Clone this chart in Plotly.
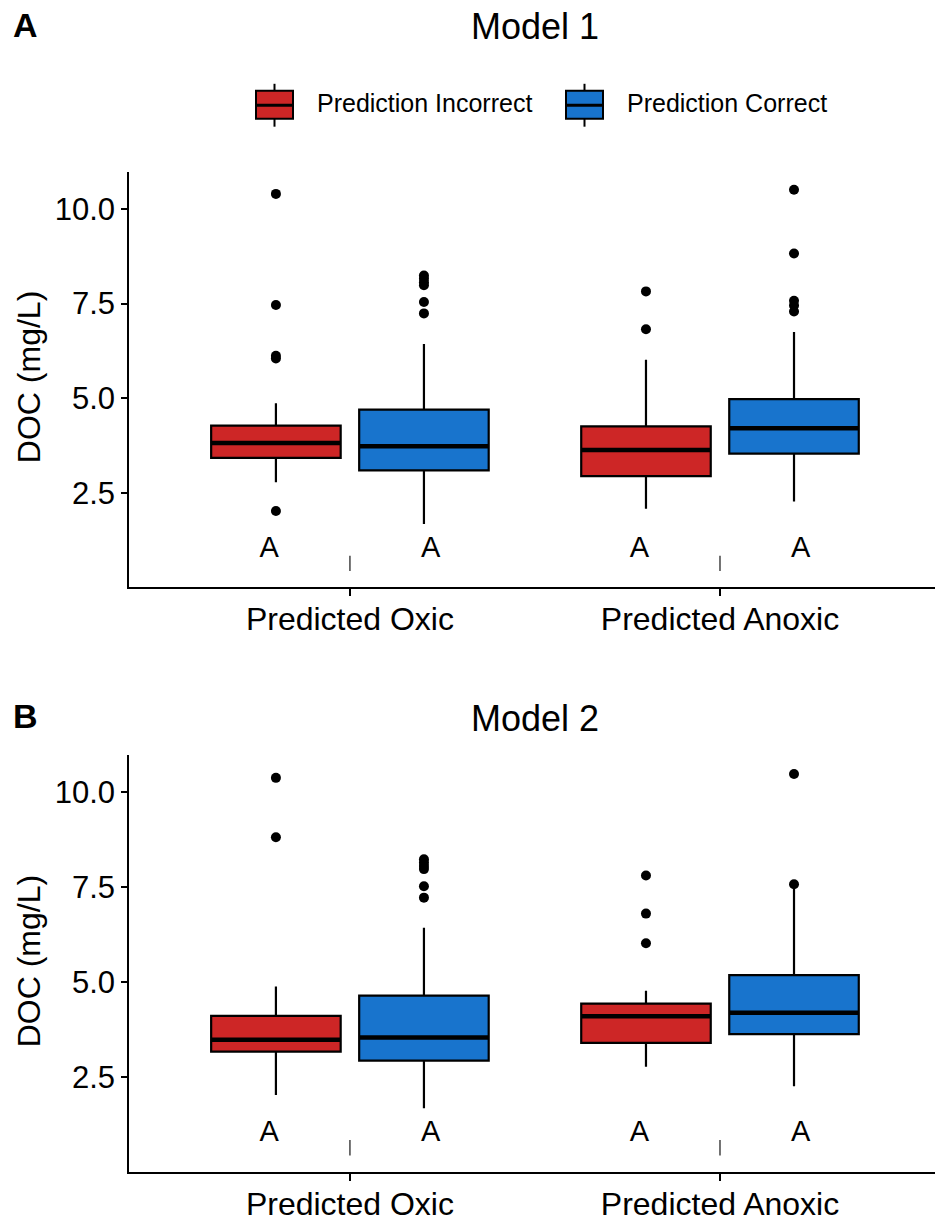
import plotly.graph_objects as go

# ---------------- data ----------------
groups = ["Predicted Oxic", "Predicted Anoxic"]
series = ["Prediction Incorrect", "Prediction Correct"]
colors = ["#CD2626", "#1874CD"]
yticks = [2.5, 5.0, 7.5, 10.0]
sig_letters = ["A", "A"]

# Model 1
m1_incorrect_q1 = [3.43, 2.95]
m1_incorrect_med = [3.82, 3.64]
m1_incorrect_q3 = [4.28, 4.26]
m1_incorrect_lo = [2.79, 2.09]
m1_incorrect_hi = [4.87, 6.02]
m1_incorrect_out = [[10.39, 7.46, 6.12, 6.05, 2.03], [7.82, 6.82]]

m1_correct_q1 = [3.10, 3.54]
m1_correct_med = [3.74, 4.21]
m1_correct_q3 = [4.70, 4.98]
m1_correct_lo = [1.69, 2.28]
m1_correct_hi = [6.43, 6.75]
m1_correct_out = [[8.24, 8.15, 8.06, 7.98, 7.54, 7.24], [10.50, 8.82, 7.57, 7.45, 7.29]]

# Model 2
m2_incorrect_q1 = [3.18, 3.41]
m2_incorrect_med = [3.49, 4.11]
m2_incorrect_q3 = [4.12, 4.44]
m2_incorrect_lo = [2.04, 2.78]
m2_incorrect_hi = [4.89, 4.78]
m2_incorrect_out = [[10.38, 8.82], [7.81, 6.81, 6.03]]

m2_correct_q1 = [2.94, 3.64]
m2_correct_med = [3.55, 4.20]
m2_correct_q3 = [4.65, 5.19]
m2_correct_lo = [1.69, 2.27]
m2_correct_hi = [6.44, 7.55]
m2_correct_out = [[8.24, 8.15, 8.06, 7.98, 7.53, 7.23], [10.48, 7.58]]

panels = [
    dict(title="Model 1", tag="A",
         stats=[(m1_incorrect_q1, m1_incorrect_med, m1_incorrect_q3, m1_incorrect_lo, m1_incorrect_hi, m1_incorrect_out),
                (m1_correct_q1, m1_correct_med, m1_correct_q3, m1_correct_lo, m1_correct_hi, m1_correct_out)]),
    dict(title="Model 2", tag="B",
         stats=[(m2_incorrect_q1, m2_incorrect_med, m2_incorrect_q3, m2_incorrect_lo, m2_incorrect_hi, m2_incorrect_out),
                (m2_correct_q1, m2_correct_med, m2_correct_q3, m2_correct_lo, m2_correct_hi, m2_correct_out)]),
]

# ---------------- layout constants ----------------
W, H = 935, 1222
FONT = "Liberation Sans, Arial, sans-serif"
dodge = [-0.2, 0.2]
letter_dodge = [-0.218, 0.218]
box_w = 0.35
sep_y = 0.65
letter_y = 1.02
y_domains = [(1 - 588.3 / H, 1 - 172.7 / H), (1 - 1175 / H, 1 - 757.3 / H)]
y_ranges = [(0.03, 10.96), (0.01, 10.97)]
x_domain = (129 / W, 1.0)
x_range = (-0.597, 1.581)
title_y = [27, 720]
tag_y = [25, 718]

# legend geometry (pixels)
leg_key_x = [256, 566]
leg_key_w = 37
leg_box_top, leg_box_bot, leg_mid = 91, 119, 105.4
leg_whisk_top, leg_whisk_bot = 84, 127
leg_text_x = [315, 625]
leg_text_y = 103

fig = go.Figure()
annotations = []
shapes = []

for p, panel in enumerate(panels):
    xa = "x" if p == 0 else "x2"
    ya = "y" if p == 0 else "y2"
    for s, (q1, med, q3, lo, hi, out) in enumerate(panel["stats"]):
        xs = [i + dodge[s] for i in range(len(groups))]
        fig.add_trace(go.Box(
            x=xs, q1=q1, median=med, q3=q3, lowerfence=lo, upperfence=hi,
            width=box_w, whiskerwidth=0, boxpoints=False,
            fillcolor=colors[s], line=dict(color="black", width=2.2),
            name=series[s], showlegend=False,
            xaxis=xa, yaxis=ya, hoverinfo="skip",
        ))
        # thick median lines
        mx, my = [], []
        for i in range(len(groups)):
            mx += [xs[i] - box_w / 2, xs[i] + box_w / 2, None]
            my += [med[i], med[i], None]
        fig.add_trace(go.Scatter(x=mx, y=my, mode="lines",
                                 line=dict(color="black", width=4.5),
                                 showlegend=False, xaxis=xa, yaxis=ya, hoverinfo="skip"))
        # outliers
        ox, oy = [], []
        for i in range(len(groups)):
            ox += [xs[i]] * len(out[i])
            oy += out[i]
        fig.add_trace(go.Scatter(x=ox, y=oy, mode="markers",
                                 marker=dict(color="black", size=10),
                                 showlegend=False, xaxis=xa, yaxis=ya, hoverinfo="skip"))
        # significance letters
        fig.add_trace(go.Scatter(x=[i + letter_dodge[s] for i in range(len(groups))],
                                 y=[letter_y] * len(groups), mode="text",
                                 text=sig_letters, textfont=dict(size=29, color="black", family=FONT),
                                 showlegend=False, xaxis=xa, yaxis=ya, hoverinfo="skip"))
    # small separators at group centres
    fig.add_trace(go.Scatter(x=list(range(len(groups))), y=[sep_y] * len(groups), mode="markers",
                             marker=dict(symbol="line-ns", size=11, line=dict(color="#444444", width=1.5)),
                             showlegend=False, xaxis=xa, yaxis=ya, hoverinfo="skip"))

    annotations.append(dict(text=panel["title"], x=(x_domain[0] + x_domain[1]) / 2 + 0.003, y=1 - title_y[p] / H,
                            xref="paper", yref="paper", showarrow=False, xanchor="center", yanchor="middle",
                            font=dict(size=36, color="black", family=FONT)))
    annotations.append(dict(text="<b>" + panel["tag"] + "</b>", x=25 / W, y=1 - tag_y[p] / H,
                            xref="paper", yref="paper", showarrow=False, xanchor="center", yanchor="middle",
                            font=dict(size=34, color="black", family=FONT)))
    ymid = (y_domains[p][0] + y_domains[p][1]) / 2
    annotations.append(dict(text="DOC (mg/L)", x=29 / W, y=ymid + 0.002,
                            xref="paper", yref="paper", showarrow=False, textangle=-90,
                            xanchor="center", yanchor="middle",
                            font=dict(size=32, color="black", family=FONT)))

# custom legend (ggplot-like boxplot keys)
for s in range(len(series)):
    x0 = leg_key_x[s] / W
    x1 = (leg_key_x[s] + leg_key_w) / W
    xm = (leg_key_x[s] + leg_key_w / 2) / W
    shapes.append(dict(type="line", xref="paper", yref="paper", x0=xm, x1=xm,
                       y0=1 - leg_whisk_top / H, y1=1 - leg_whisk_bot / H,
                       line=dict(color="black", width=2)))
    shapes.append(dict(type="rect", xref="paper", yref="paper", x0=x0, x1=x1,
                       y0=1 - leg_box_bot / H, y1=1 - leg_box_top / H,
                       fillcolor=colors[s], line=dict(color="black", width=2)))
    shapes.append(dict(type="line", xref="paper", yref="paper", x0=x0, x1=x1,
                       y0=1 - leg_mid / H, y1=1 - leg_mid / H,
                       line=dict(color="black", width=3)))
    annotations.append(dict(text=series[s], x=leg_text_x[s] / W, y=1 - leg_text_y / H,
                            xref="paper", yref="paper", showarrow=False,
                            xanchor="left", yanchor="middle",
                            font=dict(size=25, color="black", family=FONT)))

axis_common = dict(showline=True, linecolor="black", linewidth=1.6, showgrid=False, zeroline=False,
                   ticks="outside", tickcolor="black", tickwidth=1.5,
                   tickfont=dict(size=31, color="black", family=FONT))

for p in range(2):
    sfx = "" if p == 0 else "2"
    fig.update_layout(**{
        "xaxis" + sfx: dict(axis_common, domain=list(x_domain), range=list(x_range),
                            tickmode="array", tickvals=list(range(len(groups))), ticktext=groups,
                            ticklen=7, anchor="y" + sfx, ticklabelstandoff=-4,
                            tickfont=dict(size=32, color="black", family=FONT)),
        "yaxis" + sfx: dict(axis_common, domain=list(y_domains[p]), range=list(y_ranges[p]),
                            tickmode="array", tickvals=yticks, ticktext=[f"{v:.1f}" for v in yticks],
                            ticklen=6, anchor="x" + sfx),
    })

fig.update_layout(
    width=W, height=H,
    margin=dict(l=0, r=0, t=0, b=0),
    paper_bgcolor="white", plot_bgcolor="white",
    font=dict(family=FONT, color="black"),
    annotations=annotations,
    shapes=shapes,
    showlegend=False,
)

fig.write_html("out.html")
